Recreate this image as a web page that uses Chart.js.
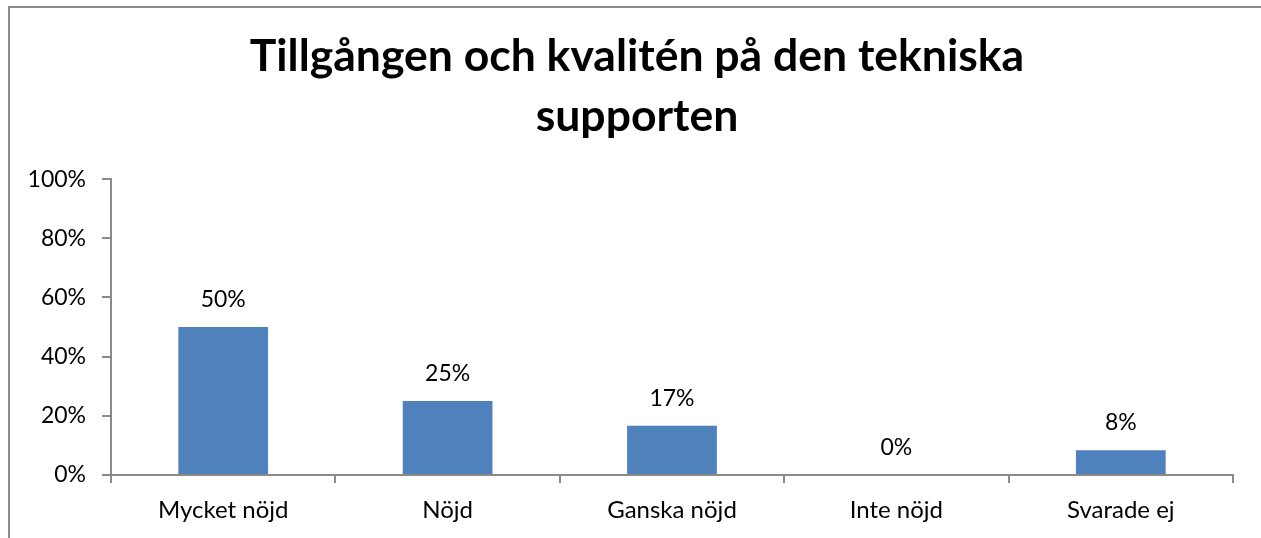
<!DOCTYPE html>
<html>
<head>
<meta charset="utf-8">
<script src="https://cdn.jsdelivr.net/npm/chart.js@4"></script>
<style>
  html, body { margin: 0; padding: 0; background: #fff; overflow: hidden; width: 1261px; height: 538px; }
  #frame { position: absolute; left: 8px; top: 6px; width: 1260px; height: 540px;
           border-top: 2px solid #8a8a8a; border-left: 2px solid #8a8a8a; }
  #wrap { position: absolute; left: 10px; top: 8px; width: 1254px; height: 530px; }
</style>
</head>
<body>
<div id="frame"></div>
<div id="wrap"><canvas id="c" width="1254" height="530"></canvas></div>
<script>
const titleLines = ['Tillgången och kvalitén på den tekniska', 'supporten'];
const categories = ['Mycket nöjd', 'Nöjd', 'Ganska nöjd', 'Inte nöjd', 'Svarade ej'];
const values = [0.50, 0.25, 0.1667, 0, 0.0833];
const valueLabels = ['50%', '25%', '17%', '0%', '8%'];
const yTickLabels = ['0%', '20%', '40%', '60%', '80%', '100%'];

const FONT = 'Lato, "Noto Sans", sans-serif';
const axisColor = '#8a8a8a';

const valueLabelPlugin = {
  id: 'valueLabels',
  afterDatasetsDraw(chart) {
    const ctx = chart.ctx;
    const meta = chart.getDatasetMeta(0);
    ctx.save();
    ctx.font = '23px ' + FONT;
    ctx.fillStyle = '#000';
    ctx.textAlign = 'center';
    ctx.textBaseline = 'alphabetic';
    meta.data.forEach((bar, i) => {
      ctx.fillText(valueLabels[i], bar.x, bar.y - 20);
    });
    ctx.restore();
  }
};

new Chart(document.getElementById('c'), {
  type: 'bar',
  data: {
    labels: categories,
    datasets: [{
      data: values,
      backgroundColor: '#4F81BD',
      borderWidth: 0,
      categoryPercentage: 1.0,
      barPercentage: 0.4
    }]
  },
  options: {
    responsive: false,
    animation: false,
    devicePixelRatio: 1,
    layout: { padding: 0 },
    plugins: {
      legend: { display: false },
      tooltip: { enabled: false },
      title: {
        display: true,
        text: titleLines,
        color: '#000',
        font: { family: FONT, size: 44.5, weight: 'bold', lineHeight: 1.35 },
        padding: { top: 19, bottom: 32 }
      }
    },
    scales: {
      x: {
        offset: true,
        grid: { display: true, drawOnChartArea: false, drawTicks: true, tickLength: 8, color: axisColor, lineWidth: 2, offset: true },
        border: { display: true, color: axisColor, width: 2 },
        ticks: { color: '#000', font: { family: FONT, size: 24 }, padding: 13, maxRotation: 0, autoSkip: false },
        afterFit(scale) { scale.height = 63; }
      },
      y: {
        min: 0, max: 1,
        grid: { display: true, drawOnChartArea: false, drawTicks: true, tickLength: 9, color: axisColor, lineWidth: 2 },
        border: { display: true, color: axisColor, width: 2 },
        ticks: {
          stepSize: 0.2,
          color: '#000',
          font: { family: FONT, size: 23 },
          padding: 16,
          callback: (v, i) => yTickLabels[i]
        },
        afterFit(scale) { scale.width = 101; }
      },
      yRightSpace: {
        position: 'right',
        min: 0, max: 1,
        display: true,
        grid: { display: false, drawTicks: false },
        border: { display: false },
        ticks: { display: false },
        afterFit(scale) { scale.width = 31; }
      }
    }
  },
  plugins: [valueLabelPlugin]
});
</script>
</body>
</html>
